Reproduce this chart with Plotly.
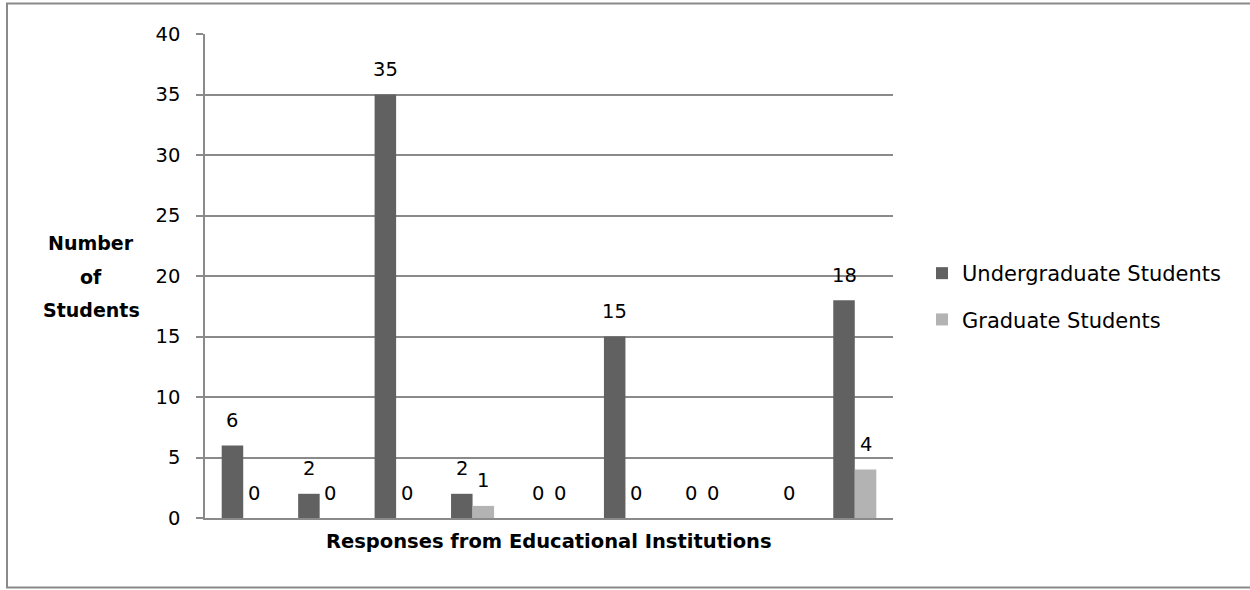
import plotly.graph_objects as go

# Survey responses grouped by institution (nine response groups)
groups = ["1", "2", "3", "4", "5", "6", "7", "8", "9"]
undergrad = [6, 2, 35, 2, 0, 15, 0, None, 18]
graduate = [0, 0, 0, 1, 0, 0, 0, 0, 4]
series_names = ["Undergraduate Students", "Graduate Students"]
y_ticks = [0, 5, 10, 15, 20, 25, 30, 35, 40]

W, H = 1250, 590
ML, MR, MT, MB = 205, 357, 34, 72
PW, PH = W - ML - MR, H - MT - MB

FONT = "'DejaVu Sans', sans-serif"
GRID = "#8a8a8a"
DARK = "#616161"
LIGHT = "#b3b3b3"

fig = go.Figure()
fig.add_trace(go.Bar(x=groups, y=undergrad, name=series_names[0],
                     marker=dict(color=DARK, line=dict(width=0)),
                     legendgroup="u"))
fig.add_trace(go.Bar(x=groups, y=graduate, name=series_names[1],
                     marker=dict(color=LIGHT, line=dict(width=0)),
                     legendgroup="g"))

# value labels above each bar (positioned by category index)
bargap = 0.437
bar_px = PW / len(groups) * (1 - bargap) / 2
annotations = []
for vals, sign in ((undergrad, -1), (graduate, 1)):
    for i, v in enumerate(vals):
        if v is None:
            continue
        annotations.append(dict(x=i, y=v, xref="x", yref="y", text=str(v),
                                showarrow=False, xshift=sign * bar_px / 2,
                                yshift=25, yanchor="middle",
                                font=dict(family=FONT, size=19.5, color="#000")))


def px_x(p):
    return (p - ML) / PW


def px_y(p):
    return (H - MB - p) / PH


# horizontal y-axis title, one line per annotation
for i, line in enumerate(["Number", "of", "Students"]):
    annotations.append(dict(x=px_x(91), y=px_y(243 + i * 33.5),
                            xref="paper", yref="paper", text=f"<b>{line}</b>",
                            showarrow=False, xanchor="center", yanchor="middle",
                            font=dict(family=FONT, size=19, color="#000")))
annotations.append(dict(x=px_x(549), y=px_y(541), xref="paper", yref="paper",
                        text="<b>Responses from Educational Institutions</b>",
                        showarrow=False, xanchor="center", yanchor="middle",
                        font=dict(family=FONT, size=19.5, color="#000")))

fig.update_layout(
    width=W, height=H,
    margin=dict(l=ML, r=MR, t=MT, b=MB, autoexpand=False),
    paper_bgcolor="white", plot_bgcolor="white",
    barmode="group", bargap=bargap, bargroupgap=0,
    font=dict(family=FONT, size=19.5, color="#000"),
    xaxis=dict(type="category", range=[-0.5, 8.5], showticklabels=False,
               ticks="", showgrid=False, showline=True, linecolor=GRID,
               linewidth=1.5, zeroline=False),
    yaxis=dict(range=[0, 40], tickvals=y_ticks, showgrid=True, gridcolor=GRID,
               gridwidth=1.5, showline=True, linecolor=GRID, linewidth=1.5,
               ticks="outside", ticklen=7, tickcolor=GRID, tickwidth=1.5,
               ticklabelstandoff=12, zeroline=False,
               tickfont=dict(family=FONT, size=19.5, color="#000")),
    legend=dict(x=px_x(922), y=px_y(253), xanchor="left", yanchor="top",
                tracegroupgap=16, font=dict(family=FONT, size=21, color="#000"),
                bgcolor="rgba(0,0,0,0)", itemclick=False),
    annotations=annotations,
    shapes=[dict(type="rect", xref="paper", yref="paper",
                 x0=px_x(7), x1=px_x(1260), y0=px_y(587.5), y1=px_y(3.5),
                 line=dict(color="#8a8a8a", width=2), layer="below")],
    showlegend=True,
)

fig.write_html("out.html")
